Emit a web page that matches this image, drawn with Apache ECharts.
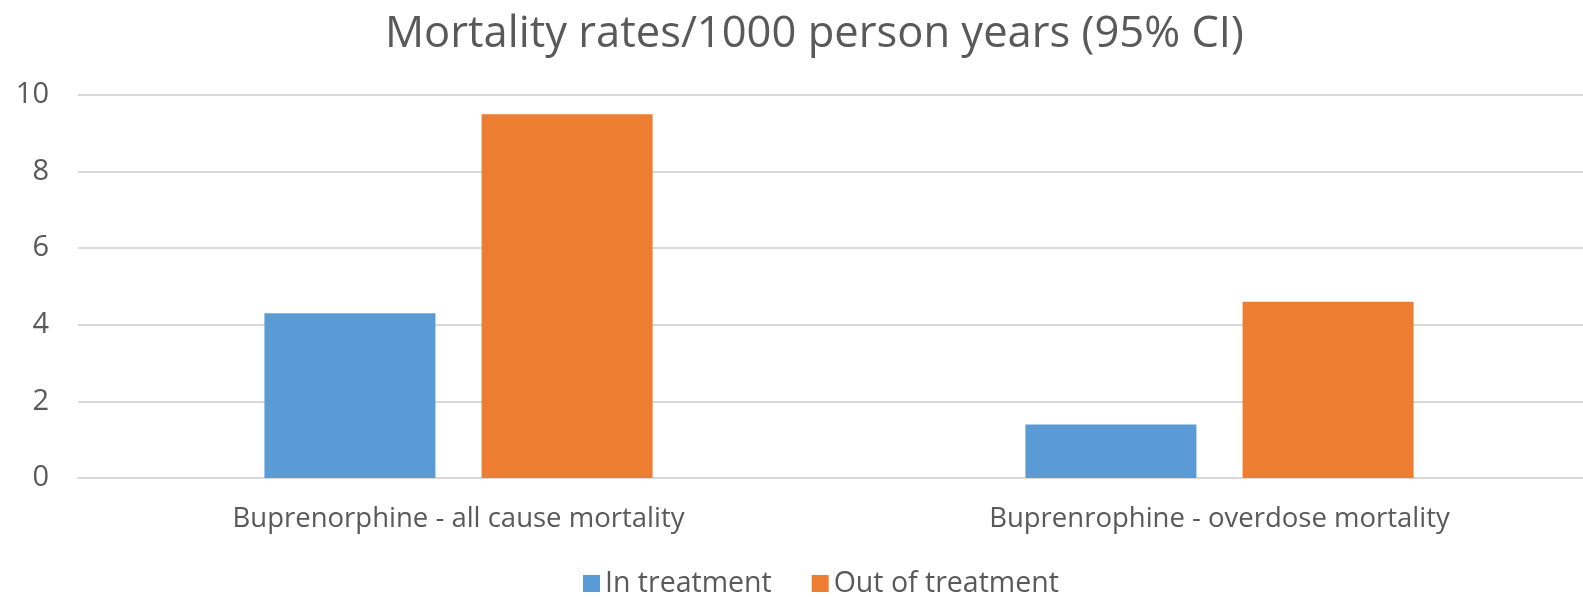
<!DOCTYPE html>
<html>
<head>
<meta charset="utf-8">
<script src="https://cdn.jsdelivr.net/npm/echarts@6/dist/echarts.min.js"></script>
<style>
  html, body { margin: 0; padding: 0; background: #fff; overflow: hidden; }
  #chart { width: 1600px; height: 597px; }
</style>
</head>
<body>
<div id="chart"></div>
<script>
// Mortality rates per 1000 person years, by treatment status
const categories = ['Buprenorphine - all cause mortality', 'Buprenrophine - overdose mortality'];
const inTreatment = [4.3, 1.4];
const outOfTreatment = [9.5, 4.6];
const seriesNames = ['In treatment', 'Out of treatment'];
const titleText = 'Mortality rates/1000 person years (95% CI)';

const textColor = '#595959';
const fontFamily = '"Open Sans", "Liberation Sans", sans-serif';

const chart = echarts.init(document.getElementById('chart'), null, { renderer: 'canvas' });

chart.setOption({
  animation: false,
  color: ['#5B9BD5', '#ED7D31'],
  title: {
    text: titleText,
    left: 380,
    top: 8,
    textStyle: { color: textColor, fontSize: 43.5, fontWeight: 'normal', fontFamily: fontFamily }
  },
  legend: {
    data: seriesNames,
    left: 578,
    top: 564,
    itemWidth: 17,
    itemHeight: 17,
    itemGap: 40,
    icon: 'rect',
    textStyle: { color: textColor, fontSize: 28.5, fontFamily: fontFamily }
  },
  grid: { left: 78, right: 0, top: 95, bottom: 119, containLabel: false },
  xAxis: {
    type: 'category',
    data: categories,
    axisLine: { lineStyle: { color: '#D9D9D9', width: 2 } },
    axisTick: { show: false },
    axisLabel: { color: textColor, fontSize: 27.5, fontFamily: fontFamily, margin: 27 }
  },
  yAxis: {
    type: 'value',
    min: 0,
    max: 10,
    interval: 2,
    axisLine: { show: false },
    axisTick: { show: false },
    splitLine: { lineStyle: { color: '#D9D9D9', width: 2 } },
    axisLabel: { color: textColor, fontSize: 29, fontFamily: fontFamily, margin: 29 }
  },
  series: [
    { name: seriesNames[0], type: 'bar', data: inTreatment, barWidth: 171, barGap: '27%' },
    { name: seriesNames[1], type: 'bar', data: outOfTreatment, barWidth: 171, barGap: '27%' }
  ]
});
</script>
</body>
</html>
